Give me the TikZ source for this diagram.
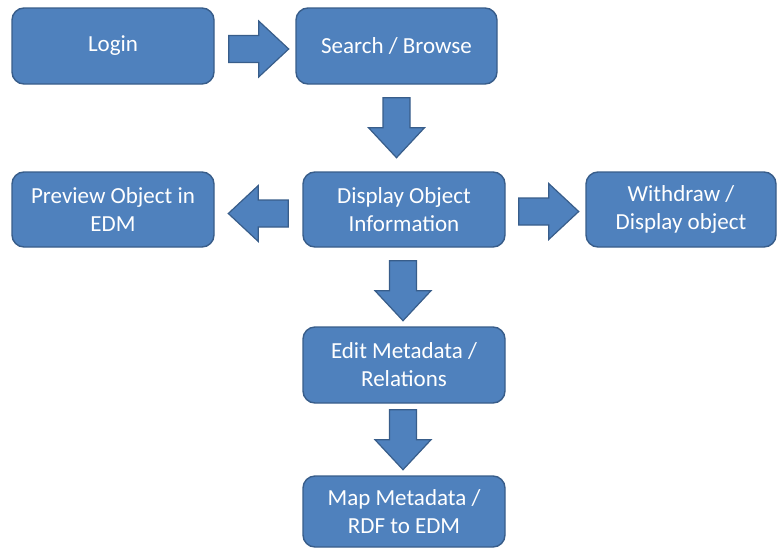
\documentclass[tikz,border=0pt]{standalone}
\usepackage{fontspec}
\setmainfont{Carlito}
\usetikzlibrary{calc}

\definecolor{boxfill}{HTML}{4F81BD}
\definecolor{boxline}{HTML}{385D8A}

\tikzset{
  stepbox/.style={
    draw=boxline, line width=1.4pt, fill=boxfill, rounded corners=12pt,
    text=white, align=center, inner sep=0pt,
    font=\fontsize{23}{28}\selectfont
  },
  arrowshape/.style={draw=boxline, line width=1.2pt, fill=boxfill, line join=miter},
  pics/barrow/.style={code={
    \draw[arrowshape] (0,-13.5) -- (30,-13.5) -- (30,-28) -- (60,0)
      -- (30,28) -- (30,13.5) -- (0,13.5) -- cycle;
  }}
}

\begin{document}
\begin{tikzpicture}[x=1pt, y=-1pt]
  \useasboundingbox (0,0) rectangle (778,549);

  % process steps
  \node[stepbox, minimum width=202pt, minimum height=76pt] (login)    at (113,46)    {Login};
  \node[stepbox, minimum width=201pt, minimum height=76pt] (search)   at (396.5,46)  {Search / Browse};
  \node[stepbox, minimum width=202pt, minimum height=75pt] (preview)  at (113,209.5) {Preview Object in\\EDM};
  \node[stepbox, minimum width=202pt, minimum height=75pt] (display)  at (404,209.5) {Display Object\\Information};
  \node[stepbox, minimum width=190pt, minimum height=75pt] (withdraw) at (681,209.5) {Withdraw /\\Display object};
  \node[stepbox, minimum width=202pt, minimum height=76pt] (edit)     at (404,365)   {Edit Metadata /\\Relations};
  \node[stepbox, minimum width=202pt, minimum height=71pt] (map)      at (404,511.5) {Map Metadata /\\RDF to EDM};

  % block arrows between the steps
  \pic at ($(login.east)+(14,3)$) {barrow};
  \pic[rotate=-90] at ($(search.south)+(0,13)$) {barrow};
  \pic[rotate=180] at ($(display.west)+(-14,4)$) {barrow};
  \pic at ($(display.east)+(13,2)$) {barrow};
  \pic[rotate=-90] at ($(display.south)+(-1,13)$) {barrow};
  \pic[rotate=-90] at ($(edit.south)+(-1,6)$) {barrow};
\end{tikzpicture}
\end{document}
